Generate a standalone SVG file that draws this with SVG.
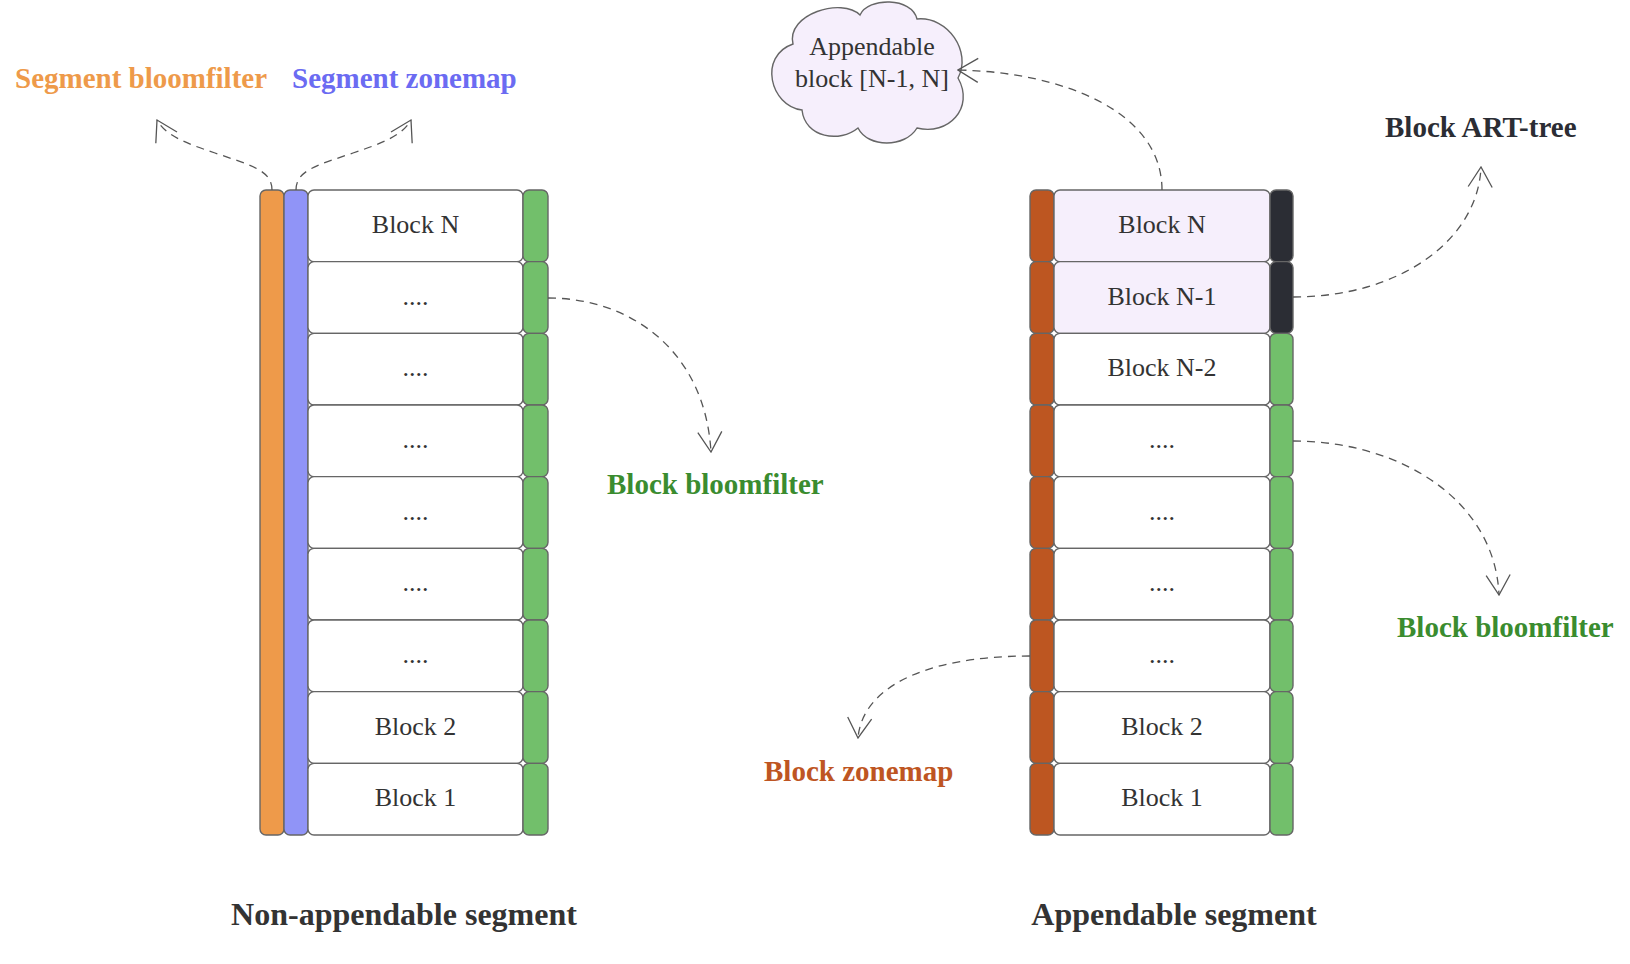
<svg xmlns="http://www.w3.org/2000/svg" width="1630" height="964" viewBox="0 0 1630 964">
<defs>
<style>
.box{stroke:#666;stroke-width:1.4}
.blk{fill:#ffffff}
.app{fill:#F6EFFC}
.or{fill:#EE9A4A}
.pu{fill:#9094F7}
.gr{fill:#72BF6B}
.rd{fill:#BD5621}
.dk{fill:#2B2D34}
.t{font-family:"Liberation Serif","Times New Roman",serif;font-size:26px;fill:#333;text-anchor:middle}
.lbl{font-family:"Liberation Serif","Times New Roman",serif;font-size:29px;font-weight:bold}
.ttl{font-family:"Liberation Serif","Times New Roman",serif;font-size:32px;font-weight:bold;fill:#333;text-anchor:middle}
.cn{fill:none;stroke:#555;stroke-width:1.3;stroke-dasharray:8 6;marker-end:url(#ah)}
</style>
<marker id="ah" viewBox="0 0 22 26" markerWidth="22" markerHeight="26" refX="21" refY="13" orient="auto" markerUnits="userSpaceOnUse">
<path d="M1,1 L21,13 L1,25" fill="none" stroke="#555" stroke-width="1.3" stroke-dasharray="none"/>
</marker>
</defs>
<rect width="1630" height="964" fill="#ffffff"/>

<g id="seg-bloomfilter-bar"><rect class="box or" x="260" y="190" width="24" height="645" rx="6"/></g>
<g id="seg-zonemap-bar"><rect class="box pu" x="284" y="190" width="24" height="645" rx="6"/></g>

<g id="left-blocks">
<g id="L0"><rect class="box blk" x="308" y="190" width="215" height="71.67" rx="6"/><text class="t" x="415.5" y="233">Block N</text><rect class="box gr" x="523" y="190" width="25" height="71.67" rx="6"/></g>
<g id="L1"><rect class="box blk" x="308" y="261.67" width="215" height="71.67" rx="6"/><text class="t" x="415.5" y="304.67">....</text><rect class="box gr" x="523" y="261.67" width="25" height="71.67" rx="6"/></g>
<g id="L2"><rect class="box blk" x="308" y="333.33" width="215" height="71.67" rx="6"/><text class="t" x="415.5" y="376.33">....</text><rect class="box gr" x="523" y="333.33" width="25" height="71.67" rx="6"/></g>
<g id="L3"><rect class="box blk" x="308" y="405" width="215" height="71.67" rx="6"/><text class="t" x="415.5" y="448">....</text><rect class="box gr" x="523" y="405" width="25" height="71.67" rx="6"/></g>
<g id="L4"><rect class="box blk" x="308" y="476.67" width="215" height="71.67" rx="6"/><text class="t" x="415.5" y="519.67">....</text><rect class="box gr" x="523" y="476.67" width="25" height="71.67" rx="6"/></g>
<g id="L5"><rect class="box blk" x="308" y="548.33" width="215" height="71.67" rx="6"/><text class="t" x="415.5" y="591.33">....</text><rect class="box gr" x="523" y="548.33" width="25" height="71.67" rx="6"/></g>
<g id="L6"><rect class="box blk" x="308" y="620" width="215" height="71.67" rx="6"/><text class="t" x="415.5" y="663">....</text><rect class="box gr" x="523" y="620" width="25" height="71.67" rx="6"/></g>
<g id="L7"><rect class="box blk" x="308" y="691.67" width="215" height="71.67" rx="6"/><text class="t" x="415.5" y="734.67">Block 2</text><rect class="box gr" x="523" y="691.67" width="25" height="71.67" rx="6"/></g>
<g id="L8"><rect class="box blk" x="308" y="763.33" width="215" height="71.67" rx="6"/><text class="t" x="415.5" y="806.33">Block 1</text><rect class="box gr" x="523" y="763.33" width="25" height="71.67" rx="6"/></g>
</g>

<g id="right-blocks">
<g id="R0"><rect class="box rd" x="1030" y="190" width="24" height="71.67" rx="6"/><rect class="box app" x="1054" y="190" width="216" height="71.67" rx="6"/><text class="t" x="1162" y="233">Block N</text><rect class="box dk" x="1270" y="190" width="23" height="71.67" rx="6"/></g>
<g id="R1"><rect class="box rd" x="1030" y="261.67" width="24" height="71.67" rx="6"/><rect class="box app" x="1054" y="261.67" width="216" height="71.67" rx="6"/><text class="t" x="1162" y="304.67">Block N-1</text><rect class="box dk" x="1270" y="261.67" width="23" height="71.67" rx="6"/></g>
<g id="R2"><rect class="box rd" x="1030" y="333.33" width="24" height="71.67" rx="6"/><rect class="box blk" x="1054" y="333.33" width="216" height="71.67" rx="6"/><text class="t" x="1162" y="376.33">Block N-2</text><rect class="box gr" x="1270" y="333.33" width="23" height="71.67" rx="6"/></g>
<g id="R3"><rect class="box rd" x="1030" y="405" width="24" height="71.67" rx="6"/><rect class="box blk" x="1054" y="405" width="216" height="71.67" rx="6"/><text class="t" x="1162" y="448">....</text><rect class="box gr" x="1270" y="405" width="23" height="71.67" rx="6"/></g>
<g id="R4"><rect class="box rd" x="1030" y="476.67" width="24" height="71.67" rx="6"/><rect class="box blk" x="1054" y="476.67" width="216" height="71.67" rx="6"/><text class="t" x="1162" y="519.67">....</text><rect class="box gr" x="1270" y="476.67" width="23" height="71.67" rx="6"/></g>
<g id="R5"><rect class="box rd" x="1030" y="548.33" width="24" height="71.67" rx="6"/><rect class="box blk" x="1054" y="548.33" width="216" height="71.67" rx="6"/><text class="t" x="1162" y="591.33">....</text><rect class="box gr" x="1270" y="548.33" width="23" height="71.67" rx="6"/></g>
<g id="R6"><rect class="box rd" x="1030" y="620" width="24" height="71.67" rx="6"/><rect class="box blk" x="1054" y="620" width="216" height="71.67" rx="6"/><text class="t" x="1162" y="663">....</text><rect class="box gr" x="1270" y="620" width="23" height="71.67" rx="6"/></g>
<g id="R7"><rect class="box rd" x="1030" y="691.67" width="24" height="71.67" rx="6"/><rect class="box blk" x="1054" y="691.67" width="216" height="71.67" rx="6"/><text class="t" x="1162" y="734.67">Block 2</text><rect class="box gr" x="1270" y="691.67" width="23" height="71.67" rx="6"/></g>
<g id="R8"><rect class="box rd" x="1030" y="763.33" width="24" height="71.67" rx="6"/><rect class="box blk" x="1054" y="763.33" width="216" height="71.67" rx="6"/><text class="t" x="1162" y="806.33">Block 1</text><rect class="box gr" x="1270" y="763.33" width="23" height="71.67" rx="6"/></g>
</g>

<g id="cloud">
<path class="box app" d="M793,44 C786,14 842,-3 860,15 C868,-3 912,-3 917,19 C948,16 972,52 958,78 C975,108 948,136 917,128 C905,148 868,148 858,128 C840,143 805,138 802,110 C770,106 758,56 793,44 Z"/>
<text class="t" x="872" y="55">Appendable</text>
<text class="t" x="872" y="87">block [N-1, N]</text>
</g>

<g id="labels">
<text class="lbl" x="15" y="88" fill="#EE9A4A">Segment bloomfilter</text>
<text class="lbl" x="292" y="88" fill="#6B6BF2">Segment zonemap</text>
<text class="lbl" x="607" y="494" fill="#3A8C2F">Block bloomfilter</text>
<text class="lbl" x="1385" y="137" fill="#2B2D34">Block ART-tree</text>
<text class="lbl" x="1397" y="637" fill="#3A8C2F">Block bloomfilter</text>
<text class="lbl" x="764" y="781" fill="#BE5522">Block zonemap</text>
<text class="ttl" x="404" y="925">Non-appendable segment</text>
<text class="ttl" x="1174" y="925">Appendable segment</text>
</g>

<g id="connectors">
<path class="cn" d="M272,190 C272,170 250,165 215,153 C185,143 165,135 157,120"/>
<path class="cn" d="M296,190 C296,170 318,165 353,153 C383,143 403,135 411,120"/>
<path class="cn" d="M548,298 C630,298 705,350 711,452"/>
<path class="cn" d="M1162,190 C1162,110 1060,72 958,70"/>
<path class="cn" d="M1293,297 C1400,297 1478,240 1481,167"/>
<path class="cn" d="M1293,441 C1400,441 1495,500 1499,595"/>
<path class="cn" d="M1030,656 C920,656 862,690 858,738"/>
</g>
</svg>
